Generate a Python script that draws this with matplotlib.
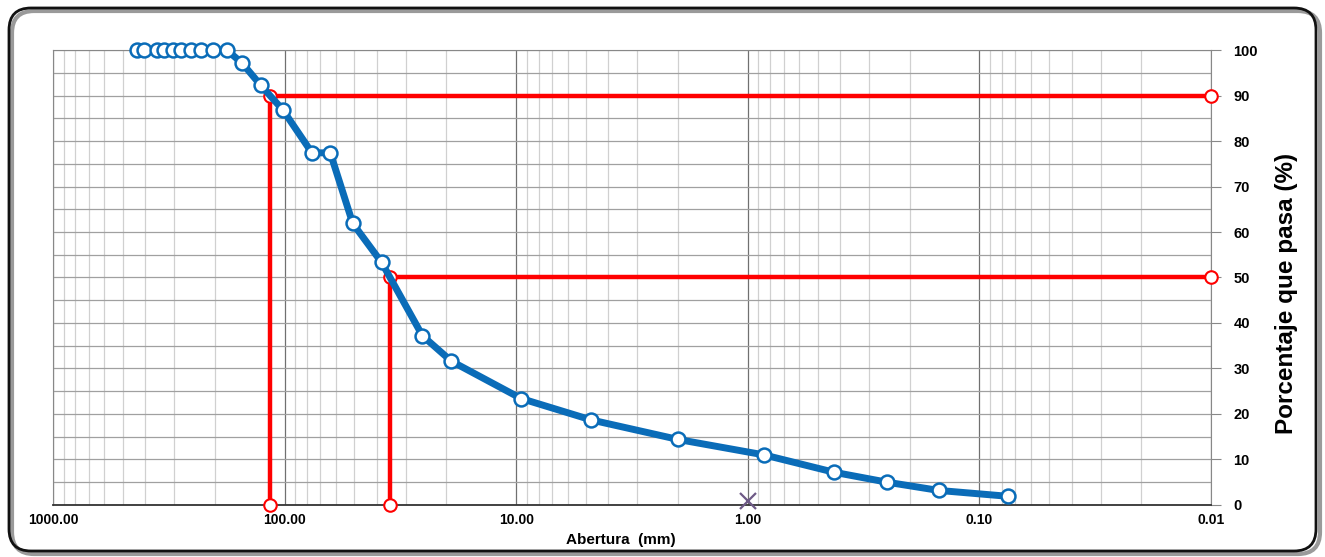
import matplotlib.pyplot as plt
import matplotlib.ticker as mticker
import matplotlib.transforms as mtransforms
from matplotlib.patches import FancyBboxPatch

plt.rcParams['font.family'] = ['Liberation Sans', 'DejaVu Sans']

# curva granulometrica
abertura = [435, 404, 355.6, 330.2, 304.8, 279.4, 254, 228.6, 203.2, 177.8,
            152.4, 127, 101.6, 76.2, 63.5, 50.8, 38.1, 25.4, 19.05, 9.525,
            4.75, 2.0, 0.85, 0.425, 0.25, 0.15, 0.075]
pasa = [100, 100, 100, 100, 100, 100, 100, 100, 100, 100,
        97.1, 92.3, 86.8, 77.4, 77.4, 61.9, 53.3, 37.2, 31.6, 23.4,
        18.7, 14.4, 11.0, 7.2, 5.0, 3.2, 1.9]

# diametros caracteristicos
d90 = 115.5
d50 = 35.1
x_fin = 0.01
x_marca = 1.0

fig = plt.figure(figsize=(13.25, 5.57), dpi=100)
ax = fig.add_axes([0.040, 0.0934, 0.874, 0.8168])

# marco redondeado
shadow = FancyBboxPatch((12, 3), 1308, 543, boxstyle="round,pad=0,rounding_size=22",
                        transform=mtransforms.IdentityTransform(), facecolor='none',
                        edgecolor='#9a9a9a', linewidth=3, zorder=0)
frame = FancyBboxPatch((9, 6), 1307, 543, boxstyle="round,pad=0,rounding_size=22",
                       transform=mtransforms.IdentityTransform(), facecolor='none',
                       edgecolor='#111111', linewidth=2, zorder=1)
fig.patches.extend([shadow, frame])

ax.set_xscale('log')
ax.set_xlim(1000, 0.01)
ax.set_ylim(0, 100)

ax.xaxis.set_major_locator(mticker.LogLocator(base=10, numticks=10))
ax.xaxis.set_minor_locator(mticker.LogLocator(base=10, subs=range(2, 10), numticks=20))
ax.xaxis.set_major_formatter(mticker.FuncFormatter(lambda v, p: '%.2f' % v))
ax.xaxis.set_minor_formatter(mticker.NullFormatter())
ax.yaxis.set_major_locator(mticker.MultipleLocator(10))
ax.yaxis.set_minor_locator(mticker.MultipleLocator(5))
ax.yaxis.tick_right()
ax.yaxis.set_label_position('right')

ax.grid(True, axis='x', which='major', color='#707070', linewidth=0.9)
ax.grid(True, axis='x', which='minor', color='#d0d0d0', linewidth=0.9)
ax.grid(True, axis='y', which='both', color='#a0a0a0', linewidth=0.9)
ax.set_axisbelow(True)

ax.tick_params(axis='x', which='both', length=0, pad=6, labelsize=10)
ax.tick_params(axis='y', which='major', length=7, width=0.8, color='#888888', pad=9, labelsize=10.5)
ax.tick_params(axis='y', which='minor', length=0)
for lab in ax.get_xticklabels() + ax.get_yticklabels():
    lab.set_fontweight('bold')

for side in ['left', 'top', 'right']:
    ax.spines[side].set_color('#888888')
ax.spines['bottom'].set_color('#333333')
ax.spines['bottom'].set_linewidth(1.3)

# lineas D90 y D50
for d, p in [(d90, 90), (d50, 50)]:
    ax.plot([d, d, x_fin], [0, p, p], color='#ff0000', linewidth=3.2, zorder=3, clip_on=False)
    ax.plot([d, d, x_fin], [0, p, p], linestyle='none', marker='o', markersize=9,
            markerfacecolor='white', markeredgecolor='#ff0000', markeredgewidth=1.5,
            zorder=4, clip_on=False)

ax.plot(abertura, pasa, color='#0a6cb8', linewidth=5, marker='o', markersize=10,
        markerfacecolor='white', markeredgecolor='#0a6cb8', markeredgewidth=1.8,
        zorder=5, clip_on=False)

ax.plot([x_marca], [0.8], marker='x', color='#6e5a86', markersize=11, markeredgewidth=1.6,
        zorder=6, clip_on=False)

ax.set_xlabel('Abertura  (mm)', fontsize=11, fontweight='bold')
ax.xaxis.set_label_coords(0.49, -0.062)
ax.set_ylabel('Porcentaje que pasa (%)', fontsize=17.5, fontweight='bold')
ax.yaxis.set_label_coords(1.055, 0.465)

fig.savefig('out.png', dpi=100)
